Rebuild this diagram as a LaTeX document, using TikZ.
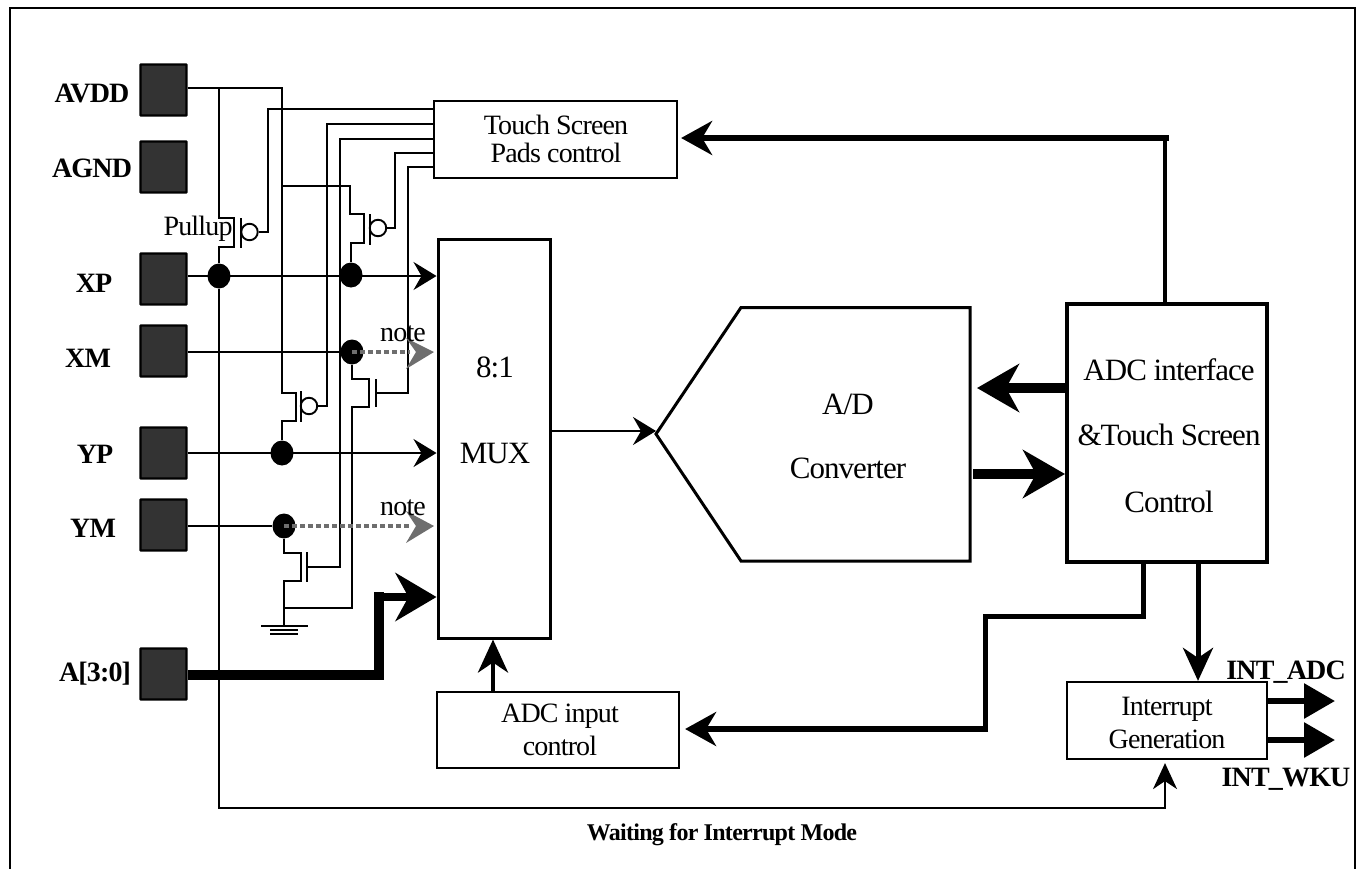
\documentclass[tikz,border=0pt]{standalone}
\usepackage{fontspec}
\setmainfont[LetterSpace=-3]{Liberation Serif}
\usetikzlibrary{arrows.meta,calc,shapes.geometric}
\definecolor{padfill}{HTML}{333333}
\definecolor{grayline}{HTML}{6E6E6E}
\tikzset{
  padbox/.style={draw=black,line width=2.2pt,fill=padfill,minimum width=46pt,minimum height=51pt,inner sep=0pt,rounded corners=0.5pt},
  blockbox/.style={draw=black,line width=2.2pt,inner sep=0pt,fill=white},
  heavybox/.style={draw=black,line width=3pt,inner sep=0pt,fill=white},
  plabel/.style={font=\fontsize{28}{28}\selectfont\bfseries,anchor=base,inner sep=0pt},
  txt/.style={font=\fontsize{28}{28}\selectfont,anchor=base,inner sep=0pt},
  bigtxt/.style={font=\fontsize{31}{31}\selectfont,anchor=base,inner sep=0pt},
  wire/.style={line width=1.9pt,draw=black},
  gatebar/.style={line width=2pt,draw=black},
  dotnode/.style={ellipse,fill=black,minimum width=23pt,minimum height=25pt,inner sep=0pt},
  bubble/.style={circle,draw=black,line width=1.9pt,fill=white,minimum size=16.5pt,inner sep=0pt},
  tipA/.style={-{Stealth[length=23pt,width=28pt,inset=8pt]},line width=2pt},
  tipC/.style={-{Stealth[length=31pt,width=34pt,inset=10pt]},line width=5pt},
  tipD/.style={-{Stealth[length=33pt,width=30pt,inset=10pt]},line width=4.5pt},
  tipE/.style={-{Stealth[length=42pt,width=48pt,inset=13pt]},line width=10pt},
  tipF/.style={-{Triangle[length=31pt,width=34pt]},line width=6pt},
  tipG/.style={-{Stealth[length=26pt,width=24pt,inset=8pt]},line width=1.9pt},
  greyline/.style={draw=grayline,line width=4.5pt,dash pattern=on 5pt off 3pt},
  greytip/.style={fill=grayline,draw=none},
}
\begin{document}
\begin{tikzpicture}[x=1pt,y=-1pt]
\useasboundingbox (0,0) rectangle (1356,868);
\draw[line width=2pt] (10,8) rectangle (1355,870);

% pads
\node[padbox] (avdd) at (163.5,90) {};
\node[padbox] (agnd) at (163.5,167) {};
\node[padbox] (xp) at (163.5,279) {};
\node[padbox] (xm) at (163.5,351) {};
\node[padbox] (yp) at (163.5,453) {};
\node[padbox] (ym) at (163.5,525) {};
\node[padbox] (aa) at (163.5,674) {};
\node[plabel] (lavdd) at (92,102) {AVDD};
\node[plabel] (lagnd) at (92,177) {AGND};
\node[plabel] (lxp) at (94,292) {XP};
\node[plabel] (lxm) at (88,367) {XM};
\node[plabel] (lyp) at (95,463) {YP};
\node[plabel] (lym) at (93,537) {YM};
\node[plabel] (la) at (95,681) {A[3:0]};

% junction dots and named wire points
\node[dotnode] (dxpa) at (219,276) {};
\node[dotnode] (dxpb) at (351,275) {};
\node[dotnode] (dxm) at (352,352) {};
\node[dotnode] (dyp) at (282,453) {};
\node[dotnode] (dym) at (284,526) {};
\coordinate (ja) at (219,88);
\coordinate (jb) at (282,88);
\coordinate (jc) at (282,186);
\coordinate (gnd) at (284,626);
\coordinate (jg) at (284,608);

% blocks
\node[blockbox,minimum width=243pt,minimum height=77pt] (touch) at (555.5,139.5) {};
\node[heavybox,minimum width=112pt,minimum height=399pt] (mux) at (494,438.5) {};
\node[blockbox,minimum width=242pt,minimum height=76pt] (inctl) at (558,730) {};
\node[blockbox,minimum width=200pt,minimum height=77pt] (irq) at (1167,720.5) {};
\node[draw=black,line width=4pt,inner sep=0pt,minimum width=200pt,minimum height=258pt] (iface) at (1167,433) {};
\coordinate (adtip) at (656,434);
\coordinate (adtl) at (741,307.5);
\coordinate (adtr) at (970,307.5);
\coordinate (adbr) at (970,561);
\coordinate (adbl) at (741,561);
\draw[line width=3pt,line join=miter] (adtip) -- (adtl) -- (adtr) -- (adbr) -- (adbl) -- cycle;

% texts
\node[txt] (t1) at (556,134) {Touch Screen};
\node[txt] (t2) at (556,162) {Pads control};
\node[txt] (t3) at (560,722) {ADC input};
\node[txt] (t4) at (560,755) {control};
\node[txt] (t5) at (1167,715) {Interrupt};
\node[txt] (t6) at (1167,748) {Generation};
\node[bigtxt] (t7) at (495,377) {8:1};
\node[bigtxt] (t8) at (495,463) {MUX};
\node[bigtxt] (t9) at (848,414) {A/D};
\node[bigtxt] (t10) at (848,478) {Converter};
\node[bigtxt] (t11) at (1169,380) {ADC interface};
\node[bigtxt] (t12) at (1169,445) {\&Touch Screen};
\node[bigtxt] (t13) at (1169,512) {Control};
\node[plabel] (t14) at (1286,679) {INT\_ADC};
\node[plabel] (t15) at (1286,786) {INT\_WKU};
\node[plabel,font=\fontsize{24}{24}\selectfont\bfseries] (t16) at (722,840) {Waiting for Interrupt Mode};

% supply wires and transistors
\draw[wire] (avdd.east |- ja) -- (ja) -- (jb) -- (jc) -- (282,393) -- (296,393) -- (296,421) -- (282,421) -- (dyp);
\draw[wire] (jc) -- (350,186) -- (350,214) -- (364,214) -- (364,243) -- (351,243) -- (dxpb);
\draw[wire] (ja) -- (219,218) -- (234,218) -- (234,247) -- (219,247) -- (dxpa);
\draw[gatebar] (241,218) -- (241,248);
\draw[gatebar] (370,214) -- (370,245);
\draw[gatebar] (301,391) -- (301,422);
\node[bubble] (ba) at (249.5,232) {};
\node[bubble] (bb) at (378,228) {};
\node[bubble] (bc) at (309,406) {};
\draw[wire] (ba.east) -- (268,232) -- (268,109) -- (touch.west |- 268,109);
\draw[wire] (bb.east) -- (395,228) -- (395,153) -- (touch.west |- 395,153);
\draw[wire] (bc.east) -- (327,406) -- (327,124) -- (touch.west |- 327,124);
\draw[wire] (touch.west |- 340,139) -- (340,139) -- (340,567) -- (307,567);
\draw[gatebar] (307,552) -- (307,582);
\draw[wire] (dym) -- (284,553) -- (301,553) -- (301,581) -- (284,581) -- (jg) -- (gnd);
\draw[wire] (touch.west |- 408,167) -- (408,167) -- (408,393) -- (376,393);
\draw[gatebar] (376,379) -- (376,407);
\draw[wire] (dxm) -- (352,379) -- (369,379) -- (369,407) -- (352,407) -- (352,608) -- (jg);
% ground
\draw[wire] ($(gnd)+(-23,0)$) -- ($(gnd)+(24,0)$);
\draw[wire] ($(gnd)+(-14,4)$) -- ($(gnd)+(14,4)$);
\draw[wire] ($(gnd)+(-14,8)$) -- ($(gnd)+(14,8)$);

% Waiting-for-interrupt wire
\draw[tipG] (dxpa) -- (219,808) -- (1165,808) -- ($(irq.south -| 1165,0)+(0,3)$);

% signal lines to MUX
\draw[tipA] (xp.east |- dxpa) -- (dxpa.center) -- (mux.west |- dxpa);
\draw[wire] (xm.east |- dxm) -- (dxm);
\draw[tipA] (yp.east |- dyp) -- (dyp.center) -- (mux.west |- dyp);
\draw[wire] (ym.east |- dym) -- (dym);
\coordinate (ga) at (434,352);
\coordinate (gb) at (434,526);
\draw[greyline] (dxm.center) -- (410,352);
\draw[greyline] (dym.center) -- (410,526);
\path[greytip] (ga) -- (406,338) -- (416,352) -- (406,369) -- cycle;
\path[greytip] (gb) -- (406,511) -- (416,526) -- (406,543) -- cycle;
\node[txt] (n1) at (403,341) {note};
\node[txt] (n2) at (403,515) {note};
\node[txt] (pu) at (198,235) {Pullup};

% address bus
\draw[line width=10pt] (aa.east |- 0,675) -- (379,675) -- (379,592);
\draw[-{Stealth[length=41pt,width=48pt,inset=13pt]},line width=8pt] (375,597) -- (mux.west |- 0,597);

% other arrows
\draw[tipD] (inctl.north -| 493,0) -- (mux.south -| 493,0);
\draw[tipA] (mux.east |- 0,431) -- (adtip |- 0,431);
\draw[tipE] (iface.west |- 0,388) -- (977,388);
\draw[tipE] (973,474) -- (iface.west |- 0,474);
\draw[line width=4.5pt] (iface.north -| 1165,0) -- (1165,138);
\draw[tipC,line width=6pt] (1169,138) -- ($(touch.east |- 0,138)+(3,0)$);
\draw[line width=5pt,line join=miter] (iface.south -| 1143,0) -- (1143,616) -- (985,616) -- (985,730);
\draw[tipC,line width=5.5pt] (988,729) -- ($(inctl.east |- 0,729)+(5,0)$);
\draw[tipD,line width=5pt] (iface.south -| 1198,0) -- (irq.north -| 1198,0);
\draw[tipF] (irq.east |- 0,701) -- (1335,701);
\draw[tipF] (irq.east |- 0,740) -- (1335,740);
\end{tikzpicture}
\end{document}
